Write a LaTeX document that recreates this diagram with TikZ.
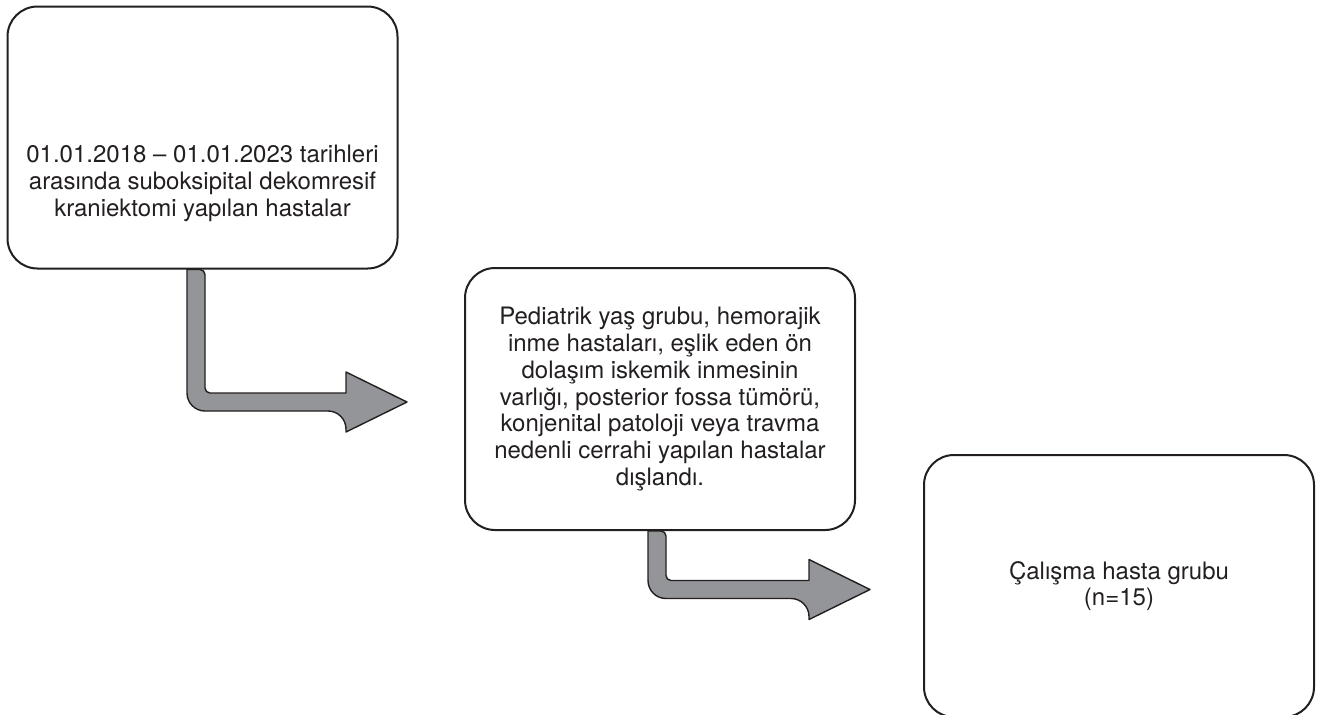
\documentclass[tikz,border=0pt]{standalone}
\usepackage{fontspec}
\setmainfont{TeX Gyre Heros}
\usetikzlibrary{calc}
\definecolor{arrowgray}{RGB}{147,149,152}
\definecolor{linedark}{RGB}{35,31,32}
\tikzset{>=latex}
\tikzset{box/.style={draw=linedark, line width=1pt, rounded corners=15pt, inner sep=0pt,
    minimum width=195pt, minimum height=131pt},
  boxtext/.style={align=center, text=linedark, font=\fontsize{12}{13.4}\selectfont},
  blockarrow/.style={draw=linedark, line width=0.7pt, fill=arrowgray, line join=round}}
% bent block arrow: #1 top of shaft, #2 tip
\newcommand{\bentarrow}[2]{%
  \path[blockarrow] let \p1=(#1), \p2=(#2) in
    (\x1-4.5pt,\y1) [rounded corners=9pt] |- (\x2-30.5pt,\y2-4.5pt) [sharp corners]
    -- (\x2-30.5pt,\y2-15pt) -- (\x2,\y2) -- (\x2-30.5pt,\y2+15pt) -- (\x2-30.5pt,\y2+4.5pt)
    [rounded corners=2.5pt] -| (\x1+4.5pt,\y1) [sharp corners] -- cycle;}

\begin{document}
\begin{tikzpicture}[x=0.5pt, y=-0.5pt]
  \useasboundingbox (0,0) rectangle (1317,714);
  \node[box] (box1) at (202.5,137.5) {};
  \node[boxtext] (box1txt) at ([yshift=-23pt]box1.center) {01.01.2018 – 01.01.2023 tarihleri\\arasında suboksipital dekomresif\\kraniektomi yapılan hastalar};
  \node[box, boxtext] (box2) at (660,399) {Pediatrik yaş grubu, hemorajik\\inme hastaları, eşlik eden ön\\dolaşım iskemik inmesinin\\varlığı, posterior fossa tümörü,\\konjenital patoloji veya travma\\nedenli cerrahi yapılan hastalar\\dışlandı.};
  \node[box, boxtext] (box3) at (1119,586) {Çalışma hasta grubu\\(n=15)};
  \coordinate (a1s) at ([xshift=-3.25pt]box1.south);
  \coordinate (a1t) at ([xshift=-28.5pt, yshift=-1.5pt]box2.west);
  \coordinate (a2s) at ([xshift=-1.5pt]box2.south);
  \coordinate (a2t) at ([xshift=-26.5pt, yshift=-1.75pt]box3.west);
  \bentarrow{a1s}{a1t}
  \bentarrow{a2s}{a2t}
\end{tikzpicture}
\end{document}
